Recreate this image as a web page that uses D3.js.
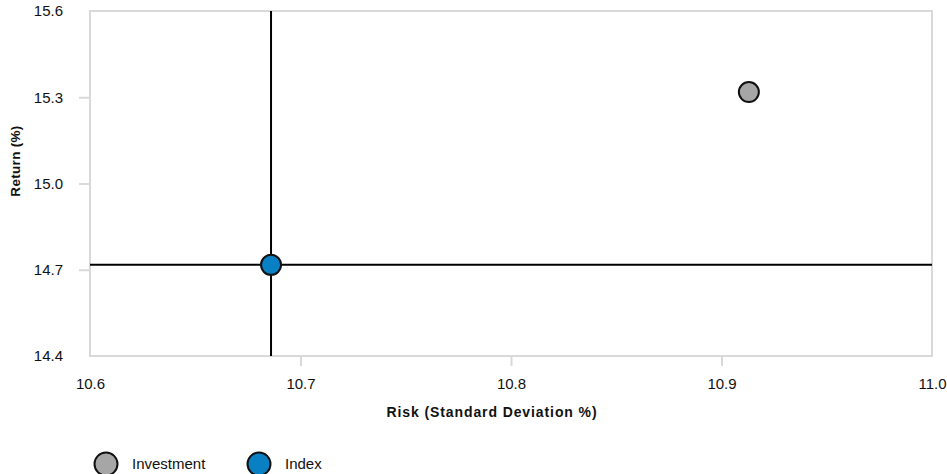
<!DOCTYPE html>
<html>
<head>
<meta charset="utf-8">
<script src="https://cdn.jsdelivr.net/npm/d3@7"></script>
<style>
html,body{margin:0;padding:0;background:#fff;}
svg{display:block;font-family:"Liberation Sans",Arial,sans-serif;}
</style>
</head>
<body>
<svg id="chart" width="947" height="474"></svg>
<script>
const seriesNames = ["Investment", "Index"];
const riskValues = [10.913, 10.686];
const returnValues = [15.318, 14.717];
const seriesColors = ["#a6a6a6", "#0a80c4"];
const xTicks = [10.6, 10.7, 10.8, 10.9, 11.0];
const yTicks = [14.4, 14.7, 15.0, 15.3, 15.6];

(function () {
const svg = d3.select("#chart");
const pLeft = 90, pRight = 932, pTop = 11, pBottom = 356;
const x = d3.scaleLinear().domain([10.6, 11.0]).range([pLeft, pRight]);
const y = d3.scaleLinear().domain([14.4, 15.6]).range([pBottom, pTop]);
const grid = "#d9d9d9";

// axes
const xAxis = svg.append("g").attr("transform", `translate(0,${pBottom})`)
  .call(d3.axisBottom(x).tickValues(xTicks).tickFormat(d3.format(".1f")).tickSize(10).tickPadding(12));
const yAxis = svg.append("g").attr("transform", `translate(${pLeft},0)`)
  .call(d3.axisLeft(y).tickValues(yTicks).tickFormat(d3.format(".1f")).tickSize(11).tickPadding(16));
[xAxis, yAxis].forEach(g => {
  g.select(".domain").remove();
  g.selectAll(".tick line").attr("stroke", grid).attr("stroke-width", 2);
  g.selectAll(".tick text").attr("fill", "#111").style("font-size", "15px")
    .style("font-family", '"Liberation Sans",Arial,sans-serif');
});
xAxis.selectAll(".tick").filter(d => d === 10.6 || d === 11.0).select("line").remove();
yAxis.selectAll(".tick").filter(d => d === 14.4 || d === 15.6).select("line").remove();
xAxis.selectAll(".tick text").attr("dy", "0.71em");

// frame
svg.append("rect").attr("x", pLeft).attr("y", pTop).attr("width", pRight - pLeft).attr("height", pBottom - pTop)
  .attr("fill", "none").attr("stroke", grid).attr("stroke-width", 2);

// crosshair at index
const idx = 1;
svg.append("line").attr("x1", x(riskValues[idx])).attr("x2", x(riskValues[idx]))
  .attr("y1", pTop).attr("y2", pBottom).attr("stroke", "#000").attr("stroke-width", 2);
svg.append("line").attr("x1", pLeft).attr("x2", pRight)
  .attr("y1", y(returnValues[idx])).attr("y2", y(returnValues[idx])).attr("stroke", "#000").attr("stroke-width", 2);

// points
svg.append("g").selectAll("circle").data(seriesNames).join("circle")
  .attr("cx", (d, i) => x(riskValues[i]))
  .attr("cy", (d, i) => y(returnValues[i]))
  .attr("r", 10)
  .attr("fill", (d, i) => seriesColors[i])
  .attr("stroke", "#111").attr("stroke-width", 2);

// titles
svg.append("text").attr("x", 492).attr("y", 417).attr("text-anchor", "middle")
  .style("font-size", "14px").style("font-weight", "bold").style("letter-spacing", "0.9px")
  .attr("fill", "#111").text("Risk (Standard Deviation %)");
svg.append("text").attr("transform", "translate(20,161) rotate(-90)").attr("text-anchor", "middle")
  .style("font-size", "13.5px").style("font-weight", "bold").style("letter-spacing", "0.3px")
  .attr("fill", "#111").text("Return (%)");

// legend
const legendX = [106, 259];
const lg = svg.append("g").selectAll("g").data(seriesNames).join("g")
  .attr("transform", (d, i) => `translate(${legendX[i]},464)`);
lg.append("circle").attr("r", 11.5).attr("fill", (d, i) => seriesColors[i])
  .attr("stroke", "#111").attr("stroke-width", 2);
lg.append("text").attr("x", 26).attr("dy", "0.36em").style("font-size", "15px")
  .attr("fill", "#111").text(d => d);
})();
</script>
</body>
</html>
